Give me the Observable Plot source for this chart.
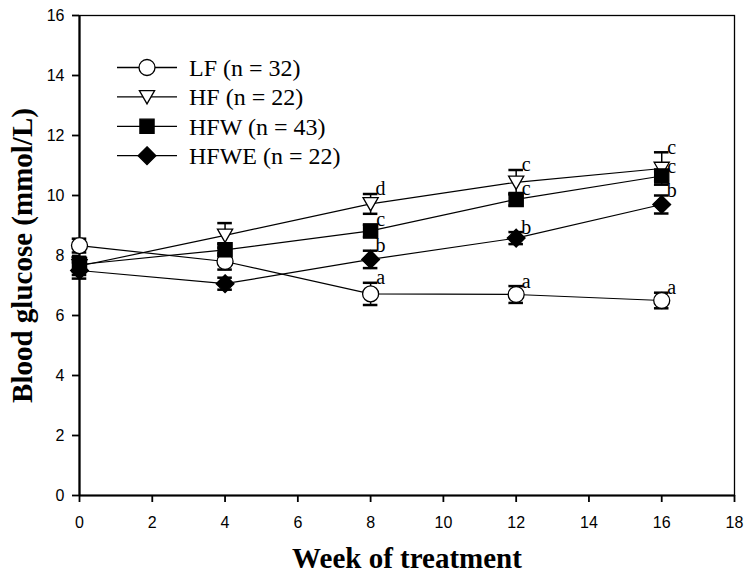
<!DOCTYPE html>
<html>
<head>
<meta charset="utf-8">
<script src="https://cdn.jsdelivr.net/npm/d3@7"></script>
<script src="https://cdn.jsdelivr.net/npm/@observablehq/plot@0.6"></script>
<style>
  html, body { margin: 0; padding: 0; background: white; }
</style>
</head>
<body>
<div id="chart"></div>
<script>
// ---- data ----
const weeks = [0, 4, 8, 12, 16];
const seriesNames = ["LF (n = 32)", "HF (n = 22)", "HFW (n = 43)", "HFWE (n = 22)"];

const lfMean   = [8.33, 7.80, 6.72, 6.70, 6.50];
const lfSem    = [0.23, 0.27, 0.37, 0.28, 0.26];
const hfMean   = [7.65, 8.67, 9.72, 10.44, 10.90];
const hfSem    = [0.30, 0.41, 0.33, 0.41, 0.54];
const hfwMean  = [7.70, 8.19, 8.82, 9.87, 10.65];
const hfwSem   = [0.25, 0.20, 0.20, 0.20, 0.15];
const hfweMean = [7.50, 7.06, 7.87, 8.58, 9.70];
const hfweSem  = [0.27, 0.20, 0.29, 0.20, 0.30];

const lfLetters   = [null, null, "a", "a", "a"];
const hfLetters   = [null, null, "d", "c", "c"];
const hfwLetters  = [null, null, "c", "c", "c"];
const hfweLetters = [null, null, "b", "b", "b"];

const xTicks = [0, 2, 4, 6, 8, 10, 12, 14, 16, 18];
const yTicks = [0, 2, 4, 6, 8, 10, 12, 14, 16];

// ---- symbols ----
const triangleDown = {
  draw(context, size) {
    const r = Math.sqrt(size / Math.PI);
    context.moveTo(-0.95 * r, -0.78 * r);
    context.lineTo(0.95 * r, -0.78 * r);
    context.lineTo(0, 0.88 * r);
    context.closePath();
  }
};
const seriesStyle = [
  { symbol: "circle", fill: "white" },
  { symbol: triangleDown, fill: "white" },
  { symbol: "square", fill: "black" },
  { symbol: "diamond2", fill: "black" }
];

const means = [lfMean, hfMean, hfwMean, hfweMean];
const sems = [lfSem, hfSem, hfwSem, hfweSem];
const letters = [lfLetters, hfLetters, hfwLetters, hfweLetters];

const rows = [];
seriesNames.forEach((s, i) => {
  weeks.forEach((w, j) => {
    rows.push({ series: s, idx: i, week: w, mean: means[i][j], sem: sems[i][j], letter: letters[i][j] });
  });
});

const capHalf = 0.2;
const R = 8;
const serif = "'Liberation Serif', 'Times New Roman', serif";

const seriesMarks = seriesNames.flatMap((s, i) => {
  const d = rows.filter(r => r.idx === i);
  return [
    Plot.ruleX(d, { x: "week", y1: r => r.mean - r.sem, y2: r => r.mean + r.sem, stroke: "black", strokeWidth: 1.5 }),
    Plot.ruleY(d, { x1: r => r.week - capHalf, x2: r => r.week + capHalf, y: r => r.mean + r.sem, stroke: "black", strokeWidth: 2.5 }),
    Plot.ruleY(d, { x1: r => r.week - capHalf, x2: r => r.week + capHalf, y: r => r.mean - r.sem, stroke: "black", strokeWidth: 2.5 }),
    Plot.dot(d, { x: "week", y: "mean", r: R, symbol: () => seriesStyle[i].symbol, fill: seriesStyle[i].fill, stroke: "black", strokeWidth: 1.3 })
  ];
});

const plot = Plot.plot({
  width: 750,
  height: 581,
  marginLeft: 79,
  marginRight: 16,
  marginTop: 15,
  marginBottom: 86,
  x: { domain: [0, 18] },
  y: { domain: [0, 16] },
  style: { fontFamily: "'Liberation Sans', Arial, sans-serif", fontSize: "16px", background: "white", color: "black" },
  marks: [
    Plot.frame({ stroke: "black", strokeWidth: 1.3 }),
    Plot.axisX({ ticks: xTicks, tickSize: 7, tickPadding: 14, fontSize: 16, strokeWidth: 1.8, label: null, tickFormat: d => String(d) }),
    Plot.axisY({ ticks: yTicks, tickSize: 7, tickPadding: 8, fontSize: 16, strokeWidth: 1.8, label: null, tickFormat: d => String(d) }),
    Plot.ruleX([0], { stroke: "black", strokeWidth: 2.2 }),
    Plot.ruleY([0], { stroke: "black", strokeWidth: 2.2 }),
    Plot.line(rows, { x: "week", y: "mean", z: "series", stroke: "black", strokeWidth: 1.2 }),
    ...seriesMarks,
    Plot.text(rows.filter(r => r.letter), {
      x: "week", y: r => r.mean + r.sem, text: "letter", dx: 10, dy: -5,
      fontFamily: serif, fontSize: 20,
      textAnchor: "middle", lineAnchor: "middle", fill: "black"
    }),
    Plot.text(["Week of treatment"], {
      frameAnchor: "bottom", dy: 72, lineAnchor: "bottom", textAnchor: "middle",
      fontFamily: serif, fontSize: 29, fontWeight: "bold", fill: "black"
    }),
    Plot.text(["Blood glucose (mmol/L)"], {
      frameAnchor: "left", dx: -57, rotate: -90, lineAnchor: "middle", textAnchor: "middle",
      fontFamily: serif, fontSize: 29, fontWeight: "bold", fill: "black"
    })
  ]
});

document.getElementById("chart").appendChild(plot);

// ---- legend (inside the plot area, top-left) ----
const svg = d3.select(plot);
const lg = svg.append("g").attr("class", "legend").attr("text-anchor", "start");
const legX1 = 117, legX2 = 177, legM = 147, legT = 189, legY0 = 67.5, legStep = 29.4;
seriesNames.forEach((s, i) => {
  const y = legY0 + i * legStep;
  const g = lg.append("g");
  g.append("line").attr("x1", legX1).attr("x2", legX2).attr("y1", y).attr("y2", y)
    .attr("stroke", "black").attr("stroke-width", 1.3);
  const sym = seriesStyle[i].symbol;
  const type = typeof sym === "string"
    ? ({ circle: d3.symbolCircle, square: d3.symbolSquare, diamond2: d3.symbolDiamond2 })[sym]
    : sym;
  g.append("path").attr("d", d3.symbol().type(type).size(Math.PI * R * R)())
    .attr("transform", `translate(${legM},${y})`)
    .attr("fill", seriesStyle[i].fill).attr("stroke", "black").attr("stroke-width", 1.3);
  g.append("text").attr("x", legT).attr("y", y).attr("dy", "0.35em")
    .attr("text-anchor", "start")
    .attr("font-family", serif).attr("font-size", 24)
    .attr("fill", "black").text(s);
});
</script>
</body>
</html>
